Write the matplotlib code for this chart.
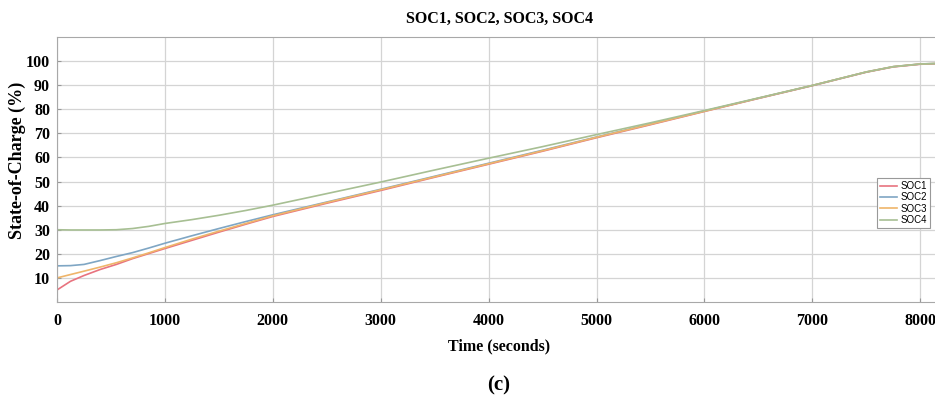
import matplotlib.pyplot as plt

# Tempo (s) e estados de carga (%) das quatro baterias
tempo = [0, 125, 250, 400, 550, 700, 850, 1000, 1250, 1500, 1750, 2000, 2500,
         3000, 3500, 4000, 4500, 5000, 5500, 6000, 6500, 7000, 7250, 7500,
         7750, 8000, 8200]
soc1 = [5, 8.6, 11, 13.5, 15.6, 18, 20.1, 22.2, 25.6, 29, 32.3, 35.5, 41,
        46.3, 51.8, 57.2, 62.6, 68.2, 73.6, 79.1, 84.5, 89.8, 92.6, 95.4,
        97.6, 98.7, 99.0]
soc2 = [15, 15.1, 15.6, 17.2, 18.9, 20.5, 22.4, 24.4, 27.5, 30.5, 33.4, 36.2,
        41.5, 46.8, 52.2, 57.6, 63, 68.5, 73.9, 79.3, 84.6, 89.9, 92.7, 95.5,
        97.7, 98.8, 99.1]
soc3 = [10, 11.4, 12.8, 14.5, 16.3, 18.3, 20.4, 22.6, 26.1, 29.4, 32.6, 35.8,
        41.3, 46.6, 52, 57.4, 62.8, 68.4, 73.8, 79.2, 84.6, 89.9, 92.7, 95.5,
        97.7, 98.8, 99.1]
soc4 = [30, 29.9, 29.9, 29.9, 30, 30.5, 31.4, 32.6, 34.2, 36, 38, 40.2, 45,
        49.8, 54.8, 59.7, 64.5, 69.5, 74.4, 79.5, 84.7, 89.9, 92.7, 95.5,
        97.7, 98.8, 99.1]

nomes = ['SOC1', 'SOC2', 'SOC3', 'SOC4']
cores = ['#e8737f', '#7fa6c4', '#efb56a', '#a7bf93']
xticks = [0, 1000, 2000, 3000, 4000, 5000, 6000, 7000, 8000]
yticks = [10, 20, 30, 40, 50, 60, 70, 80, 90, 100]

plt.rcParams['font.family'] = ['Liberation Serif', 'DejaVu Serif']

fig = plt.figure(figsize=(9.35, 4.07), dpi=100)
ax = fig.add_axes([0.061, 0.258, 0.9463, 0.651])

for serie, nome, cor in zip([soc1, soc2, soc3, soc4], nomes, cores):
    ax.plot(tempo, serie, color=cor, lw=1.2, label=nome)

ax.set_xlim(0, 8200)
ax.set_ylim(0, 110)
ax.set_xticks(xticks)
ax.set_yticks(yticks)
ax.tick_params(direction='in', length=3, color='#999999', labelsize=11.5)
ax.tick_params(axis='x', pad=8)
ax.tick_params(axis='y', pad=5)
for lbl in ax.get_xticklabels() + ax.get_yticklabels():
    lbl.set_fontweight('bold')
ax.grid(True, color='#d4d4d4', lw=0.9)
for s in ax.spines.values():
    s.set_color('#a8a8a8')

ax.set_title('SOC1, SOC2, SOC3, SOC4', fontsize=11.5, fontweight='bold', pad=10)
ax.set_xlabel('Time (seconds)', fontsize=11.5, fontweight='bold', labelpad=7)
ax.set_ylabel('State-of-Charge (%)', fontsize=13, fontweight='bold')
ax.yaxis.set_label_coords(-0.035, 0.535)

leg = ax.legend(loc='upper left', bbox_to_anchor=(0.9268, 0.468),
                borderaxespad=0,
                prop={'family': 'Liberation Sans', 'size': 7},
                handlelength=1.8, handletextpad=0.3, borderpad=0.3,
                labelspacing=0.15, fancybox=False, framealpha=1)
leg.get_frame().set_edgecolor('#999999')
leg.get_frame().set_linewidth(0.8)

fig.text(0.533, 0.04, '(c)', ha='center', fontsize=15, fontweight='bold')

fig.savefig('out.png', dpi=100)
